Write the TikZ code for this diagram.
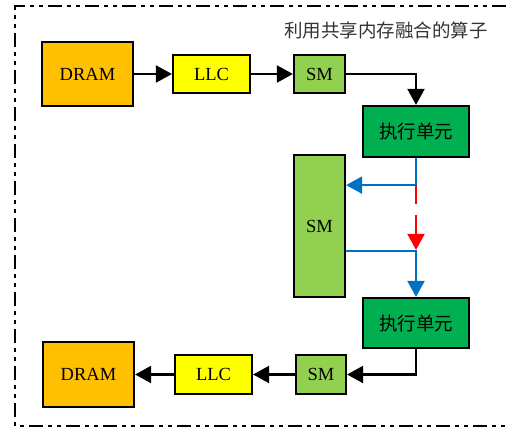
\documentclass[tikz,border=0pt]{standalone}
\usepackage{fontspec}
\setmainfont{Liberation Serif}
\newfontfamily\cjk{Noto Sans CJK SC}
\usepackage{tikz}
\usetikzlibrary{
  arrows.meta,   % Triangle 箭头
  calc           % 坐标计算
}
\definecolor{dramorange}{HTML}{FFC000}
\definecolor{llcyellow}{HTML}{FFFF00}
\definecolor{smgreen}{HTML}{92D050}
\definecolor{execgreen}{HTML}{00B050}
\definecolor{flowblue}{HTML}{0070C0}

\begin{document}
\begin{tikzpicture}[x=1pt, y=-1pt, >={Triangle[length=16pt,width=17pt]},
    unit/.style={draw=black, line width=2.2pt, inner sep=0pt,
      font=\fontsize{18.5}{20}\selectfont},
    flow/.style={line width=2.2pt, ->},
    frame/.style={line width=2.4pt,
      dash pattern=on 14pt off 5pt on 4pt off 5pt on 4pt off 5pt}]
    \useasboundingbox (0,0) rectangle (506,428);

    % 外框（右侧超出画面）
    \draw[frame] (506,6) -- (15,6) -- (15,426) -- (506,426);
    \node[anchor=east, inner sep=0pt, text=black!80,
      font=\fontsize{18.5}{20}\selectfont\cjk] (title) at (488,30)
      {利用共享内存融合的算子};

    % 读入路径
    \node[unit, fill=dramorange, minimum width=91pt, minimum height=64pt]
      (dramA) at (87.5,74) {DRAM};
    \node[unit, fill=llcyellow, minimum width=77pt, minimum height=38pt]
      (llcA) at (211.5,74) {LLC};
    \node[unit, fill=smgreen, minimum width=51pt, minimum height=38pt]
      (smA) at (319.5,74) {SM};
    \node[unit, fill=execgreen, minimum width=106pt, minimum height=51pt]
      (execA) at (416,131.5) {\cjk 执行单元};

    % 共享内存
    \node[unit, fill=smgreen, minimum width=51pt, minimum height=142pt]
      (smMid) at (319.5,226) {SM};

    % 写回路径
    \node[unit, fill=execgreen, minimum width=106pt, minimum height=50pt]
      (execB) at (416,323) {\cjk 执行单元};
    \node[unit, fill=smgreen, minimum width=50pt, minimum height=39pt]
      (smB) at (321,374.5) {SM};
    \node[unit, fill=llcyellow, minimum width=77pt, minimum height=39pt]
      (llcB) at (213.5,374.5) {LLC};
    \node[unit, fill=dramorange, minimum width=91pt, minimum height=65pt]
      (dramB) at (88.5,374.5) {DRAM};

    % 分支点
    \coordinate (splitA) at ($(execA.south)+(0,27)$);
    \coordinate (joinB) at ($(execB.north)+(0,-46)$);

    % 黑色数据流
    \draw[flow] (dramA) -- (llcA);
    \draw[flow] (llcA) -- (smA);
    \draw[flow] (smA.east) -| (execA.north);
    \draw[flow] (execB.south) |- (smB.east);
    \draw[flow] (smB) -- (llcB);
    \draw[flow] (llcB) -- (dramB);

    % 经共享内存的数据流
    \draw[flow, flowblue] (execA.south) -- (splitA) -- (splitA -| smMid.east);
    \draw[flow, flowblue] (joinB -| smMid.east) -- (joinB) -- (execB.north);
    \draw[line width=2.2pt, red, dash pattern=on 19pt off 11pt, ->]
      (splitA) -- ($(joinB)+(0,-1)$);
  \end{tikzpicture}
\end{document}
